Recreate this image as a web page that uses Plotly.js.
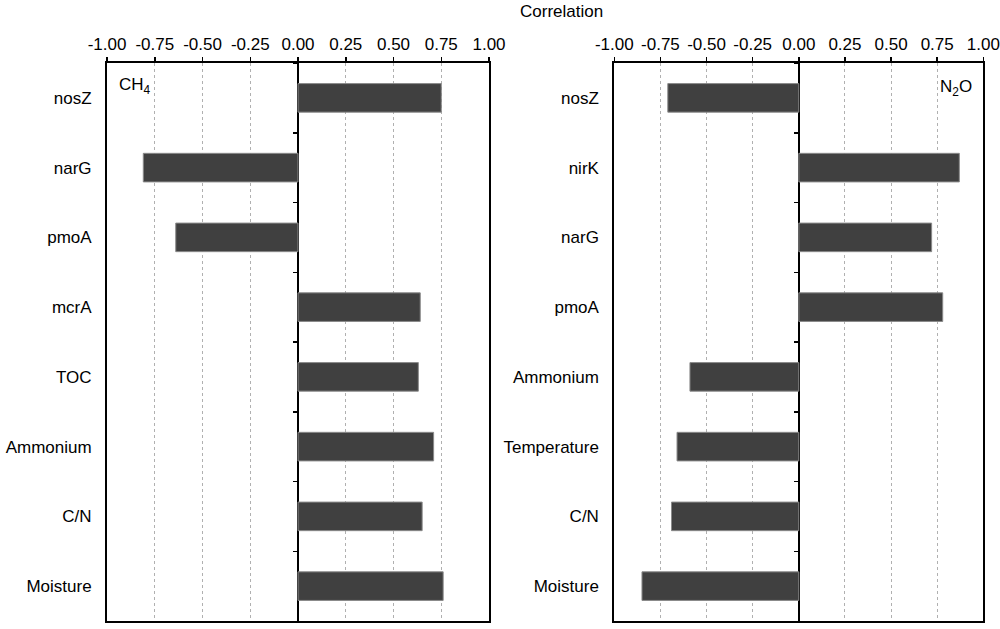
<!DOCTYPE html>
<html>
<head>
<meta charset="utf-8">
<script src="https://cdn.plot.ly/plotly-3.0.1.min.js"></script>
<style>html,body{margin:0;padding:0;background:#fff;}#chart{width:1000px;height:629px;}</style>
</head>
<body>
<div id="chart"></div>
<script>
// Data
const ch4Categories = ["nosZ", "narG", "pmoA", "mcrA", "TOC", "Ammonium", "C/N", "Moisture"];
const ch4Values = [0.75, -0.81, -0.64, 0.64, 0.63, 0.71, 0.65, 0.76];
const n2oCategories = ["nosZ", "nirK", "narG", "pmoA", "Ammonium", "Temperature", "C/N", "Moisture"];
const n2oValues = [-0.71, 0.87, 0.72, 0.78, -0.59, -0.66, -0.69, -0.85];
const xTickValues = [-1, -0.75, -0.5, -0.25, 0, 0.25, 0.5, 0.75, 1];
const xTickLabels = ["-1.00", "-0.75", "-0.50", "-0.25", "0.00", "0.25", "0.50", "0.75", "1.00"];
const axisTitle = "Correlation";
const panelLabels = ["CH<sub>4</sub>", "N<sub>2</sub>O"];

const FONT = "Liberation Sans, Arial, sans-serif";
const FS = 17;
const barStyle = {color: "#404040", line: {color: "#8a8a8a", width: 1}};

const traces = [
  {type: "bar", orientation: "h", x: ch4Values, y: ch4Categories, xaxis: "x", yaxis: "y",
   marker: barStyle, hoverinfo: "x+y"},
  {type: "bar", orientation: "h", x: n2oValues, y: n2oCategories, xaxis: "x2", yaxis: "y2",
   marker: barStyle, hoverinfo: "x+y"},
  // invisible helpers carrying the category-boundary ticks on the zero line
  {type: "scatter", mode: "markers", x: ch4Values, y: ch4Categories, xaxis: "x", yaxis: "y3",
   marker: {opacity: 0}, hoverinfo: "skip", showlegend: false},
  {type: "scatter", mode: "markers", x: n2oValues, y: n2oCategories, xaxis: "x2", yaxis: "y4",
   marker: {opacity: 0}, hoverinfo: "skip", showlegend: false}
];

const leftDom = [0.107, 0.489];
const rightDom = [0.6143, 0.9833];
const yDom = [8/629, 566/629];

function xAxis(dom, anchor) {
  return {
    domain: dom, anchor: anchor, side: "top", range: [-1, 1],
    tickmode: "array", tickvals: xTickValues, ticktext: xTickLabels,
    ticks: "outside", ticklen: 4, tickwidth: 1.5, tickcolor: "#000",
    showline: true, mirror: true, linecolor: "#000", linewidth: 2,
    showgrid: true, gridcolor: "#b0b0b0", gridwidth: 1, griddash: "dot",
    zeroline: true, zerolinecolor: "#000", zerolinewidth: 1.5,
    tickfont: {family: FONT, size: FS, color: "#000"},
    fixedrange: true
  };
}
function yAxis(anchor, cats) {
  return {
    domain: yDom, anchor: anchor, type: "category",
    categoryorder: "array", categoryarray: cats, range: [7.5, -0.5],
    showline: true, mirror: true, linecolor: "#000", linewidth: 2,
    ticks: "", showgrid: false, zeroline: false,
    ticklabelstandoff: 10,
    tickfont: {family: FONT, size: FS, color: "#000"},
    fixedrange: true
  };
}
function tickAxis(over, pos, cats) {
  return {
    overlaying: over, anchor: "free", position: pos, side: "left", type: "category",
    categoryorder: "array", categoryarray: cats, range: [7.5, -0.5],
    ticks: "outside", tickson: "boundaries", ticklen: 5, tickwidth: 1.5, tickcolor: "#000",
    showticklabels: false, showline: false, showgrid: false, zeroline: false,
    fixedrange: true
  };
}

const layout = {
  width: 1000, height: 629,
  margin: {l: 0, r: 0, t: 0, b: 0},
  paper_bgcolor: "#fff", plot_bgcolor: "#fff",
  showlegend: false, bargap: 0.59,
  font: {family: FONT, size: FS, color: "#000"},
  xaxis: xAxis(leftDom, "y"),
  xaxis2: xAxis(rightDom, "y2"),
  yaxis: yAxis("x", ch4Categories),
  yaxis2: yAxis("x2", n2oCategories),
  yaxis3: tickAxis("y", (leftDom[0] + leftDom[1]) / 2, ch4Categories),
  yaxis4: tickAxis("y2", (rightDom[0] + rightDom[1]) / 2, n2oCategories),
  annotations: [
    {text: axisTitle, xref: "paper", yref: "paper", x: 0.561, y: 1 - 11/629,
     xanchor: "center", yanchor: "middle", showarrow: false, font: {family: FONT, size: FS}},
    {text: panelLabels[0], xref: "paper", yref: "paper", x: 0.117, y: 1 - 86/629,
     xanchor: "left", yanchor: "middle", showarrow: false, font: {family: FONT, size: FS}},
    {text: panelLabels[1], xref: "paper", yref: "paper", x: 0.974, y: 1 - 88/629,
     xanchor: "right", yanchor: "middle", showarrow: false, font: {family: FONT, size: FS}}
  ]
};

Plotly.newPlot("chart", traces, layout, {displayModeBar: false, staticPlot: true});
</script>
</body>
</html>
